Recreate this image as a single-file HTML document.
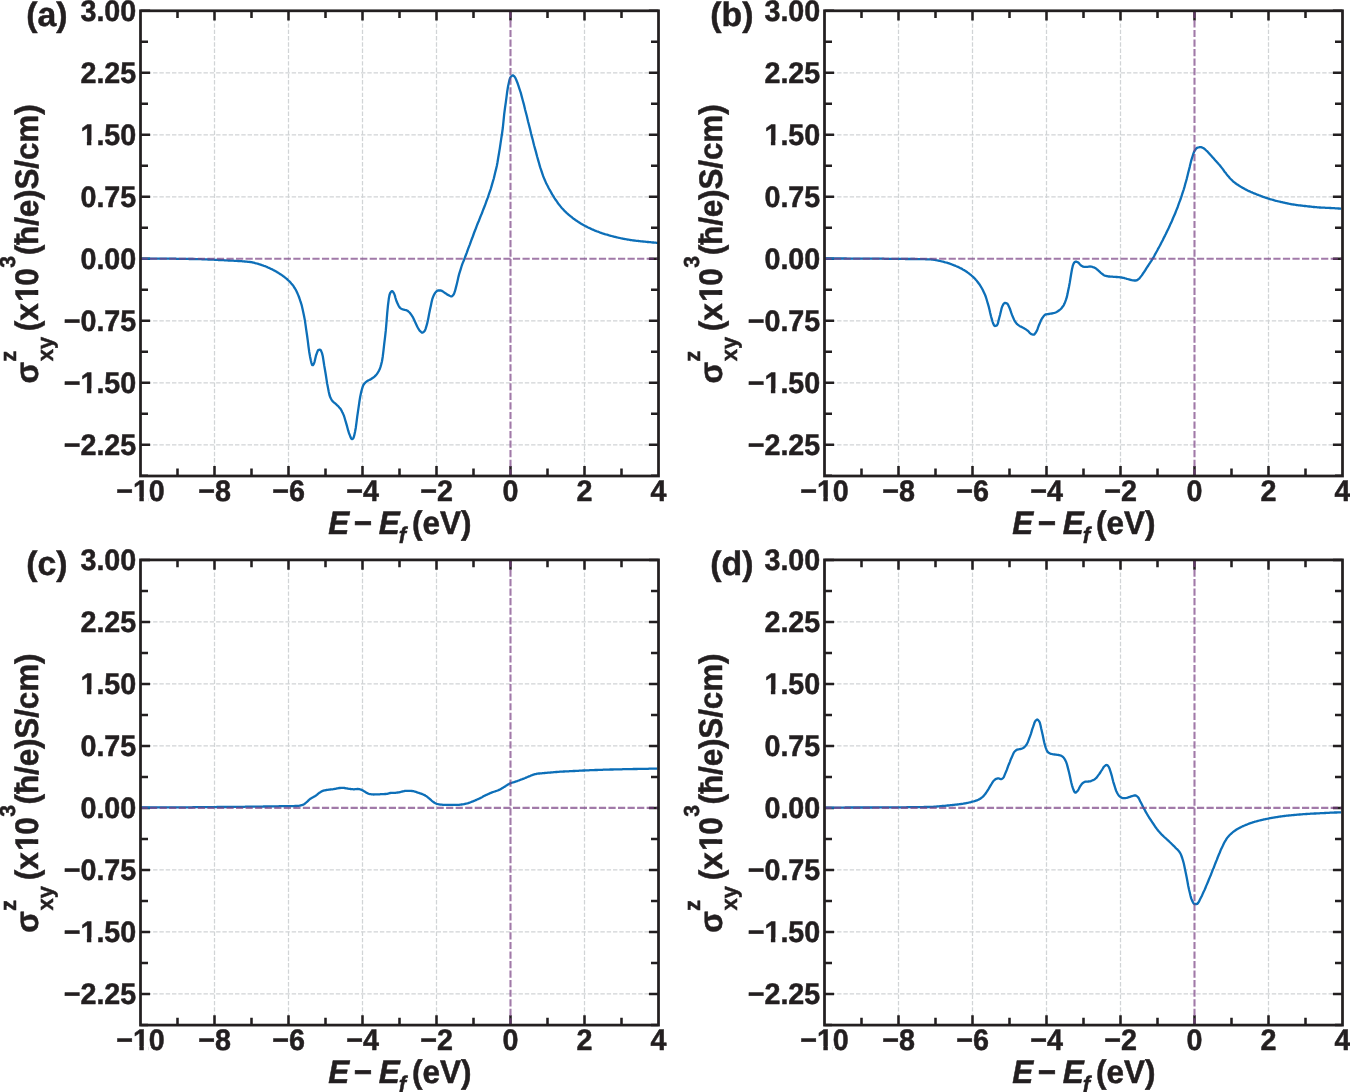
<!DOCTYPE html>
<html><head><meta charset="utf-8"><title>Spin Hall conductivity</title>
<style>
html,body{margin:0;padding:0;background:#fff;}
body{width:1350px;height:1092px;overflow:hidden;}
svg{display:block;}
text{font-family:"Liberation Sans",sans-serif;font-weight:bold;fill:#231f20;stroke:#231f20;stroke-width:0.5px;stroke-linejoin:round;font-kerning:none;text-rendering:geometricPrecision;}
.tk{font-size:28.7px;}
.lb{font-size:31.5px;}
.sb{font-size:22px;}
.sp{font-size:21px;}
.pl{font-size:33.8px;}
.it{font-style:italic;}
</style></head><body>
<svg width="1350" height="1092" viewBox="0 0 1350 1092">
<rect width="1350" height="1092" fill="#fff"/>
<g>
<g stroke="#d1d4d6" stroke-width="1.25" stroke-dasharray="4.4 1.9" fill="none">
<path d="M214.5,10.8V475.9"/>
<path d="M288.5,10.8V475.9"/>
<path d="M362.5,10.8V475.9"/>
<path d="M436.5,10.8V475.9"/>
<path d="M584.5,10.8V475.9"/>
<path d="M140.5,72.8H658.5"/>
<path d="M140.5,134.8H658.5"/>
<path d="M140.5,196.8H658.5"/>
<path d="M140.5,320.8H658.5"/>
<path d="M140.5,382.8H658.5"/>
<path d="M140.5,444.8H658.5"/>
</g>
<path d="M177.5,475.9v-7.3M177.5,10.8v7.3M214.5,475.9v-9.8M214.5,10.8v9.8M251.5,475.9v-7.3M251.5,10.8v7.3M288.5,475.9v-9.8M288.5,10.8v9.8M325.5,475.9v-7.3M325.5,10.8v7.3M362.5,475.9v-9.8M362.5,10.8v9.8M399.5,475.9v-7.3M399.5,10.8v7.3M436.5,475.9v-9.8M436.5,10.8v9.8M473.5,475.9v-7.3M473.5,10.8v7.3M510.5,475.9v-9.8M510.5,10.8v9.8M547.5,475.9v-7.3M547.5,10.8v7.3M584.5,475.9v-9.8M584.5,10.8v9.8M621.5,475.9v-7.3M621.5,10.8v7.3M140.5,10.8h9.6M658.5,10.8h-9.6M140.5,41.8h7.5M658.5,41.8h-7.5M140.5,72.8h9.6M658.5,72.8h-9.6M140.5,103.8h7.5M658.5,103.8h-7.5M140.5,134.8h9.6M658.5,134.8h-9.6M140.5,165.8h7.5M658.5,165.8h-7.5M140.5,196.8h9.6M658.5,196.8h-9.6M140.5,227.8h7.5M658.5,227.8h-7.5M140.5,258.8h9.6M658.5,258.8h-9.6M140.5,289.8h7.5M658.5,289.8h-7.5M140.5,320.8h9.6M658.5,320.8h-9.6M140.5,351.8h7.5M658.5,351.8h-7.5M140.5,382.8h9.6M658.5,382.8h-9.6M140.5,413.8h7.5M658.5,413.8h-7.5M140.5,444.8h9.6M658.5,444.8h-9.6M140.5,475.8h7.5M658.5,475.8h-7.5" stroke="#231f20" stroke-width="2.55" fill="none"/>
<path d="M140.5,258.6 L141.2,258.6 L142.0,258.6 L142.8,258.6 L143.5,258.6 L144.2,258.6 L145.0,258.6 L145.8,258.6 L146.5,258.6 L147.2,258.6 L148.0,258.6 L148.8,258.6 L149.5,258.6 L150.2,258.6 L151.0,258.6 L151.8,258.6 L152.5,258.6 L153.2,258.6 L154.0,258.6 L154.8,258.6 L155.5,258.6 L156.2,258.6 L157.0,258.6 L157.8,258.6 L158.5,258.6 L159.2,258.6 L160.0,258.6 L160.8,258.7 L161.5,258.7 L162.2,258.7 L163.0,258.7 L163.8,258.7 L164.5,258.7 L165.2,258.7 L166.0,258.7 L166.8,258.7 L167.5,258.7 L168.2,258.7 L169.0,258.7 L169.8,258.7 L170.5,258.7 L171.2,258.7 L172.0,258.7 L172.8,258.7 L173.5,258.7 L174.2,258.7 L175.0,258.7 L175.8,258.7 L176.5,258.8 L177.2,258.8 L178.0,258.8 L178.8,258.8 L179.5,258.8 L180.2,258.8 L181.0,258.8 L181.8,258.8 L182.5,258.8 L183.2,258.8 L184.0,258.9 L184.8,258.9 L185.5,258.9 L186.2,258.9 L187.0,258.9 L187.8,258.9 L188.5,258.9 L189.2,259.0 L190.0,259.0 L190.8,259.0 L191.5,259.0 L192.2,259.0 L193.0,259.0 L193.8,259.1 L194.5,259.1 L195.2,259.1 L196.0,259.1 L196.8,259.1 L197.5,259.1 L198.2,259.2 L199.0,259.2 L199.8,259.2 L200.5,259.2 L201.2,259.2 L202.0,259.3 L202.8,259.3 L203.5,259.3 L204.2,259.3 L205.0,259.3 L205.8,259.4 L206.5,259.4 L207.2,259.4 L208.0,259.5 L208.8,259.5 L209.5,259.5 L210.2,259.6 L211.0,259.6 L211.8,259.6 L212.5,259.7 L213.2,259.7 L214.0,259.7 L214.8,259.8 L215.5,259.8 L216.2,259.8 L217.0,259.9 L217.8,259.9 L218.5,260.0 L219.2,260.0 L220.0,260.0 L220.8,260.1 L221.5,260.1 L222.2,260.2 L223.0,260.2 L223.8,260.2 L224.5,260.3 L225.2,260.3 L226.0,260.4 L226.8,260.4 L227.5,260.4 L228.2,260.5 L229.0,260.5 L229.8,260.5 L230.5,260.6 L231.2,260.6 L232.0,260.7 L232.8,260.7 L233.5,260.7 L234.2,260.8 L235.0,260.8 L235.8,260.9 L236.5,260.9 L237.2,260.9 L238.0,261.0 L238.8,261.0 L239.5,261.1 L240.2,261.1 L241.0,261.2 L241.8,261.2 L242.5,261.3 L243.2,261.4 L244.0,261.4 L244.8,261.5 L245.5,261.6 L246.2,261.6 L247.0,261.7 L247.8,261.8 L248.5,261.9 L249.2,261.9 L250.0,262.0 L250.8,262.1 L251.5,262.2 L252.2,262.4 L253.0,262.5 L253.8,262.7 L254.5,262.9 L255.2,263.1 L256.0,263.3 L256.8,263.5 L257.5,263.7 L258.2,263.9 L259.0,264.2 L259.8,264.4 L260.5,264.7 L261.2,264.9 L262.0,265.2 L262.8,265.4 L263.5,265.7 L264.2,266.0 L265.0,266.2 L265.8,266.5 L266.5,266.8 L267.2,267.1 L268.0,267.5 L268.8,267.8 L269.5,268.1 L270.2,268.5 L271.0,268.9 L271.8,269.2 L272.5,269.6 L273.2,270.0 L274.0,270.4 L274.8,270.8 L275.5,271.2 L276.2,271.6 L277.0,272.1 L277.8,272.5 L278.5,272.9 L279.2,273.4 L280.0,273.9 L280.8,274.4 L281.5,274.9 L282.2,275.4 L283.0,276.0 L283.8,276.5 L284.5,277.1 L285.2,277.7 L286.0,278.3 L286.8,278.9 L287.5,279.6 L288.2,280.3 L289.0,281.0 L289.8,281.7 L290.5,282.5 L291.2,283.4 L292.0,284.3 L292.8,285.2 L293.5,286.2 L294.2,287.3 L295.0,288.5 L295.8,289.8 L296.5,291.2 L297.2,292.8 L298.0,294.6 L298.8,296.5 L299.5,298.5 L300.2,300.7 L301.0,303.0 L301.8,305.7 L302.5,308.7 L303.2,312.0 L304.0,315.7 L304.8,319.9 L305.5,324.7 L306.2,329.7 L307.0,335.0 L307.8,340.9 L308.5,346.7 L309.2,351.7 L310.0,356.4 L310.8,360.3 L311.5,363.1 L312.2,365.2 L313.0,365.2 L313.8,363.9 L314.5,362.1 L315.2,358.9 L316.0,355.5 L316.8,353.3 L317.5,351.4 L318.2,350.2 L319.0,349.9 L319.8,349.7 L320.5,349.8 L321.2,351.1 L322.0,353.1 L322.8,356.2 L323.5,360.7 L324.2,365.4 L325.0,370.0 L325.8,374.8 L326.5,379.4 L327.2,383.7 L328.0,387.9 L328.8,391.9 L329.5,395.0 L330.2,397.0 L331.0,398.7 L331.8,400.1 L332.5,401.1 L333.2,401.8 L334.0,402.5 L334.8,403.1 L335.5,403.7 L336.2,404.3 L337.0,405.1 L337.8,405.8 L338.5,406.5 L339.2,407.4 L340.0,408.3 L340.8,409.3 L341.5,410.5 L342.2,412.0 L343.0,413.6 L343.8,415.4 L344.5,417.5 L345.2,420.0 L346.0,422.7 L346.8,425.4 L347.5,428.0 L348.2,430.7 L349.0,433.2 L349.8,435.1 L350.5,437.1 L351.2,438.6 L352.0,439.2 L352.8,438.8 L353.5,437.8 L354.2,435.7 L355.0,432.0 L355.8,427.7 L356.5,422.4 L357.2,416.8 L358.0,411.4 L358.8,405.9 L359.5,401.0 L360.2,396.7 L361.0,392.9 L361.8,389.8 L362.5,387.4 L363.2,385.4 L364.0,384.1 L364.8,383.2 L365.5,382.4 L366.2,381.8 L367.0,381.2 L367.8,380.7 L368.5,380.3 L369.2,380.0 L370.0,379.6 L370.8,379.2 L371.5,378.7 L372.2,378.2 L373.0,377.7 L373.8,377.2 L374.5,376.6 L375.2,375.9 L376.0,375.1 L376.8,374.2 L377.5,373.2 L378.2,372.0 L379.0,370.6 L379.8,369.0 L380.5,366.9 L381.2,364.4 L382.0,361.2 L382.8,356.2 L383.5,350.3 L384.2,344.2 L385.0,337.6 L385.8,330.4 L386.5,322.2 L387.2,313.4 L388.0,305.1 L388.8,298.8 L389.5,295.0 L390.2,293.0 L391.0,291.9 L391.8,291.2 L392.5,291.2 L393.2,292.1 L394.0,293.4 L394.8,295.4 L395.5,298.0 L396.2,300.2 L397.0,302.2 L397.8,304.1 L398.5,305.5 L399.2,306.8 L400.0,307.8 L400.8,308.4 L401.5,308.8 L402.2,309.1 L403.0,309.4 L403.8,309.6 L404.5,309.8 L405.2,310.0 L406.0,310.2 L406.8,310.4 L407.5,310.8 L408.2,311.3 L409.0,312.0 L409.8,312.8 L410.5,313.7 L411.2,314.7 L412.0,315.9 L412.8,317.1 L413.5,318.5 L414.2,320.0 L415.0,321.7 L415.8,323.4 L416.5,324.9 L417.2,326.4 L418.0,328.0 L418.8,329.3 L419.5,330.4 L420.2,331.2 L421.0,331.9 L421.8,332.5 L422.5,332.6 L423.2,332.3 L424.0,331.6 L424.8,330.7 L425.5,329.1 L426.2,326.8 L427.0,324.2 L427.8,320.8 L428.5,317.2 L429.2,313.4 L430.0,309.6 L430.8,305.9 L431.5,302.5 L432.2,299.4 L433.0,297.1 L433.8,295.3 L434.5,293.9 L435.2,292.8 L436.0,291.9 L436.8,291.2 L437.5,290.6 L438.2,290.5 L439.0,290.5 L439.8,290.5 L440.5,290.5 L441.2,290.6 L442.0,290.9 L442.8,291.4 L443.5,291.9 L444.2,292.4 L445.0,292.9 L445.8,293.4 L446.5,294.0 L447.2,294.4 L448.0,294.9 L448.8,295.3 L449.5,295.7 L450.2,296.0 L451.0,296.3 L451.8,296.4 L452.5,295.9 L453.2,295.0 L454.0,293.8 L454.8,291.7 L455.5,289.1 L456.2,286.4 L457.0,283.2 L457.8,279.8 L458.5,276.6 L459.2,273.9 L460.0,271.3 L460.8,268.8 L461.5,266.5 L462.2,264.4 L463.0,262.4 L463.8,260.5 L464.5,258.6 L465.2,256.7 L466.0,254.7 L466.8,252.6 L467.5,250.6 L468.2,248.6 L469.0,246.6 L469.8,244.6 L470.5,242.6 L471.2,240.6 L472.0,238.5 L472.8,236.5 L473.5,234.5 L474.2,232.5 L475.0,230.5 L475.8,228.5 L476.5,226.6 L477.2,224.7 L478.0,222.8 L478.8,221.0 L479.5,219.1 L480.2,217.3 L481.0,215.4 L481.8,213.5 L482.5,211.6 L483.2,209.7 L484.0,207.7 L484.8,205.8 L485.5,203.8 L486.2,201.8 L487.0,199.8 L487.8,197.7 L488.5,195.5 L489.2,193.3 L490.0,191.1 L490.8,188.8 L491.5,186.4 L492.2,183.9 L493.0,181.2 L493.8,178.5 L494.5,175.6 L495.2,172.6 L496.0,169.4 L496.8,166.0 L497.5,162.3 L498.2,158.0 L499.0,153.3 L499.8,148.4 L500.5,143.6 L501.2,138.9 L502.0,133.8 L502.8,128.0 L503.5,121.1 L504.2,114.1 L505.0,108.0 L505.8,102.4 L506.5,97.1 L507.2,91.7 L508.0,86.8 L508.8,83.0 L509.5,79.8 L510.2,77.6 L511.0,76.6 L511.8,75.9 L512.5,75.4 L513.2,75.5 L514.0,76.1 L514.8,77.0 L515.5,78.1 L516.2,79.8 L517.0,81.8 L517.8,83.8 L518.5,85.9 L519.2,88.1 L520.0,90.5 L520.8,92.9 L521.5,95.6 L522.2,98.3 L523.0,101.2 L523.8,104.1 L524.5,107.1 L525.2,110.0 L526.0,113.0 L526.8,116.0 L527.5,119.0 L528.2,122.0 L529.0,125.0 L529.8,128.1 L530.5,131.1 L531.2,134.1 L532.0,137.1 L532.8,140.0 L533.5,142.9 L534.2,145.8 L535.0,148.6 L535.8,151.4 L536.5,154.1 L537.2,156.8 L538.0,159.6 L538.8,162.3 L539.5,164.9 L540.2,167.4 L541.0,169.7 L541.8,172.0 L542.5,174.1 L543.2,176.2 L544.0,178.1 L544.8,180.0 L545.5,181.6 L546.2,183.2 L547.0,184.8 L547.8,186.2 L548.5,187.7 L549.2,189.0 L550.0,190.4 L550.8,191.8 L551.5,193.1 L552.2,194.4 L553.0,195.6 L553.8,196.9 L554.5,198.1 L555.2,199.2 L556.0,200.3 L556.8,201.4 L557.5,202.5 L558.2,203.5 L559.0,204.5 L559.8,205.4 L560.5,206.4 L561.2,207.3 L562.0,208.2 L562.8,209.0 L563.5,209.8 L564.2,210.6 L565.0,211.3 L565.8,212.1 L566.5,212.8 L567.2,213.4 L568.0,214.1 L568.8,214.8 L569.5,215.4 L570.2,216.0 L571.0,216.6 L571.8,217.2 L572.5,217.8 L573.2,218.4 L574.0,218.9 L574.8,219.5 L575.5,220.0 L576.2,220.6 L577.0,221.1 L577.8,221.6 L578.5,222.1 L579.2,222.5 L580.0,223.0 L580.8,223.5 L581.5,223.9 L582.2,224.4 L583.0,224.8 L583.8,225.2 L584.5,225.6 L585.2,226.0 L586.0,226.4 L586.8,226.8 L587.5,227.2 L588.2,227.5 L589.0,227.9 L589.8,228.2 L590.5,228.6 L591.2,228.9 L592.0,229.3 L592.8,229.6 L593.5,229.9 L594.2,230.2 L595.0,230.6 L595.8,230.9 L596.5,231.2 L597.2,231.5 L598.0,231.7 L598.8,232.0 L599.5,232.3 L600.2,232.6 L601.0,232.8 L601.8,233.1 L602.5,233.3 L603.2,233.6 L604.0,233.8 L604.8,234.1 L605.5,234.3 L606.2,234.5 L607.0,234.7 L607.8,234.9 L608.5,235.2 L609.2,235.4 L610.0,235.6 L610.8,235.8 L611.5,236.0 L612.2,236.2 L613.0,236.4 L613.8,236.6 L614.5,236.8 L615.2,236.9 L616.0,237.1 L616.8,237.3 L617.5,237.5 L618.2,237.7 L619.0,237.8 L619.8,238.0 L620.5,238.2 L621.2,238.3 L622.0,238.5 L622.8,238.6 L623.5,238.8 L624.2,238.9 L625.0,239.1 L625.8,239.2 L626.5,239.3 L627.2,239.5 L628.0,239.6 L628.8,239.7 L629.5,239.8 L630.2,240.0 L631.0,240.1 L631.8,240.2 L632.5,240.3 L633.2,240.4 L634.0,240.5 L634.8,240.6 L635.5,240.7 L636.2,240.8 L637.0,240.8 L637.8,240.9 L638.5,241.0 L639.2,241.1 L640.0,241.2 L640.8,241.3 L641.5,241.3 L642.2,241.4 L643.0,241.5 L643.8,241.6 L644.5,241.7 L645.2,241.7 L646.0,241.8 L646.8,241.9 L647.5,242.0 L648.2,242.0 L649.0,242.1 L649.8,242.2 L650.5,242.2 L651.2,242.3 L652.0,242.4 L652.8,242.5 L653.5,242.5 L654.2,242.6 L655.0,242.7 L655.8,242.7 L656.5,242.8 L657.2,242.9 L658.0,242.9" fill="none" stroke="#0d6fb8" stroke-width="2.3" stroke-linejoin="round" stroke-linecap="butt"/>
<g stroke="#7a4284" stroke-width="2.1" stroke-dasharray="7.2 2.35" fill="none" opacity="0.7"><path d="M140.5,258.8H658.5"/><path d="M510.5,10.8V475.9"/></g>
<rect x="140.5" y="10.8" width="518.0" height="465.2" fill="none" stroke="#231f20" stroke-width="2.75"/>
<text class="tk" transform="translate(116.16,501.30) scale(1,1.035)">−10</text><path fill="#fff" d="M134.03,496.81H139.37v5.79H134.03ZM143.80,496.81H148.78v5.79H143.80Z"/>
<text class="tk" transform="translate(198.14,501.30) scale(1,1.035)">−8</text>
<text class="tk" transform="translate(272.14,501.30) scale(1,1.035)">−6</text>
<text class="tk" transform="translate(346.14,501.30) scale(1,1.035)">−4</text>
<text class="tk" transform="translate(420.14,501.30) scale(1,1.035)">−2</text>
<text class="tk" transform="translate(502.52,501.30) scale(1,1.035)">0</text>
<text class="tk" transform="translate(576.52,501.30) scale(1,1.035)">2</text>
<text class="tk" transform="translate(650.52,501.30) scale(1,1.035)">4</text>
<text class="tk" transform="translate(80.44,21.00) scale(1,1.035)">3.00</text>
<text class="tk" transform="translate(80.44,83.00) scale(1,1.035)">2.25</text>
<text class="tk" transform="translate(80.44,145.00) scale(1,1.035)">1.50</text><path fill="#fff" d="M81.55,140.51H86.89v5.79H81.55ZM91.33,140.51H96.30v5.79H91.33Z"/>
<text class="tk" transform="translate(80.44,207.00) scale(1,1.035)">0.75</text>
<text class="tk" transform="translate(80.44,269.00) scale(1,1.035)">0.00</text>
<text class="tk" transform="translate(63.68,331.00) scale(1,1.035)">−0.75</text>
<text class="tk" transform="translate(63.68,393.00) scale(1,1.035)">−1.50</text><path fill="#fff" d="M81.55,388.51H86.89v5.79H81.55ZM91.33,388.51H96.30v5.79H91.33Z"/>
<text class="tk" transform="translate(63.68,455.00) scale(1,1.035)">−2.25</text>
<text class="lb" transform="translate(0,534.1) scale(1,1.035)"><tspan class="it" x="328.35">E</tspan><tspan x="353.70">−</tspan><tspan class="it" x="378.75">E</tspan><tspan class="it sb" x="398.85" dy="8.3">f</tspan><tspan x="412.03" dy="-8.3">(eV)</tspan></text>
<g transform="translate(140.5,475.50) rotate(-90)"><text class="lb" transform="translate(91.9,-102.8) scale(1,1.035)">σ</text><text class="sb" transform="translate(113.7,-124.3) scale(1,1.035)">z</text><text class="sb" transform="translate(114.15,-87.7) scale(1,1.035)">xy</text><text class="lb" transform="translate(144.30,-102.80) scale(1,1.035)">(x<tspan dx="1.2">1</tspan><tspan dx="-1.2">0</tspan></text><path fill="#fff" d="M174.79,-107.59H180.61v6.09H174.79ZM185.43,-107.59H190.85v6.09H185.43Z"/><text class="sp" transform="translate(207.8,-125.5) scale(1,1.035)">3</text><text class="lb" transform="translate(220.2,-102.8) scale(1,1.035)" letter-spacing="-0.15">(ħ/e)S/cm)</text></g>
<text class="pl" x="26.3" y="26.00">(a)</text>
</g>
<g>
<g stroke="#d1d4d6" stroke-width="1.25" stroke-dasharray="4.4 1.9" fill="none">
<path d="M898.5,10.8V475.9"/>
<path d="M972.5,10.8V475.9"/>
<path d="M1046.5,10.8V475.9"/>
<path d="M1120.5,10.8V475.9"/>
<path d="M1268.5,10.8V475.9"/>
<path d="M824.5,72.8H1342.5"/>
<path d="M824.5,134.8H1342.5"/>
<path d="M824.5,196.8H1342.5"/>
<path d="M824.5,320.8H1342.5"/>
<path d="M824.5,382.8H1342.5"/>
<path d="M824.5,444.8H1342.5"/>
</g>
<path d="M861.5,475.9v-7.3M861.5,10.8v7.3M898.5,475.9v-9.8M898.5,10.8v9.8M935.5,475.9v-7.3M935.5,10.8v7.3M972.5,475.9v-9.8M972.5,10.8v9.8M1009.5,475.9v-7.3M1009.5,10.8v7.3M1046.5,475.9v-9.8M1046.5,10.8v9.8M1083.5,475.9v-7.3M1083.5,10.8v7.3M1120.5,475.9v-9.8M1120.5,10.8v9.8M1157.5,475.9v-7.3M1157.5,10.8v7.3M1194.5,475.9v-9.8M1194.5,10.8v9.8M1231.5,475.9v-7.3M1231.5,10.8v7.3M1268.5,475.9v-9.8M1268.5,10.8v9.8M1305.5,475.9v-7.3M1305.5,10.8v7.3M824.5,10.8h9.6M1342.5,10.8h-9.6M824.5,41.8h7.5M1342.5,41.8h-7.5M824.5,72.8h9.6M1342.5,72.8h-9.6M824.5,103.8h7.5M1342.5,103.8h-7.5M824.5,134.8h9.6M1342.5,134.8h-9.6M824.5,165.8h7.5M1342.5,165.8h-7.5M824.5,196.8h9.6M1342.5,196.8h-9.6M824.5,227.8h7.5M1342.5,227.8h-7.5M824.5,258.8h9.6M1342.5,258.8h-9.6M824.5,289.8h7.5M1342.5,289.8h-7.5M824.5,320.8h9.6M1342.5,320.8h-9.6M824.5,351.8h7.5M1342.5,351.8h-7.5M824.5,382.8h9.6M1342.5,382.8h-9.6M824.5,413.8h7.5M1342.5,413.8h-7.5M824.5,444.8h9.6M1342.5,444.8h-9.6M824.5,475.8h7.5M1342.5,475.8h-7.5" stroke="#231f20" stroke-width="2.55" fill="none"/>
<path d="M824.5,258.5 L825.2,258.5 L826.0,258.5 L826.8,258.5 L827.5,258.5 L828.2,258.5 L829.0,258.5 L829.8,258.5 L830.5,258.5 L831.2,258.5 L832.0,258.5 L832.8,258.5 L833.5,258.5 L834.2,258.5 L835.0,258.5 L835.8,258.5 L836.5,258.5 L837.2,258.5 L838.0,258.5 L838.8,258.5 L839.5,258.5 L840.2,258.5 L841.0,258.5 L841.8,258.5 L842.5,258.5 L843.2,258.5 L844.0,258.5 L844.8,258.5 L845.5,258.5 L846.2,258.5 L847.0,258.6 L847.8,258.6 L848.5,258.6 L849.2,258.6 L850.0,258.6 L850.8,258.6 L851.5,258.6 L852.2,258.6 L853.0,258.6 L853.8,258.6 L854.5,258.6 L855.2,258.6 L856.0,258.6 L856.8,258.6 L857.5,258.6 L858.2,258.6 L859.0,258.6 L859.8,258.6 L860.5,258.6 L861.2,258.6 L862.0,258.6 L862.8,258.6 L863.5,258.6 L864.2,258.6 L865.0,258.6 L865.8,258.6 L866.5,258.6 L867.2,258.6 L868.0,258.6 L868.8,258.6 L869.5,258.6 L870.2,258.7 L871.0,258.7 L871.8,258.7 L872.5,258.7 L873.2,258.7 L874.0,258.7 L874.8,258.7 L875.5,258.7 L876.2,258.7 L877.0,258.7 L877.8,258.7 L878.5,258.7 L879.2,258.7 L880.0,258.7 L880.8,258.7 L881.5,258.7 L882.2,258.7 L883.0,258.7 L883.8,258.7 L884.5,258.8 L885.2,258.8 L886.0,258.8 L886.8,258.8 L887.5,258.8 L888.2,258.8 L889.0,258.8 L889.8,258.8 L890.5,258.8 L891.2,258.8 L892.0,258.8 L892.8,258.8 L893.5,258.8 L894.2,258.8 L895.0,258.8 L895.8,258.9 L896.5,258.9 L897.2,258.9 L898.0,258.9 L898.8,258.9 L899.5,258.9 L900.2,258.9 L901.0,258.9 L901.8,258.9 L902.5,258.9 L903.2,258.9 L904.0,258.9 L904.8,258.9 L905.5,259.0 L906.2,259.0 L907.0,259.0 L907.8,259.0 L908.5,259.0 L909.2,259.0 L910.0,259.0 L910.8,259.0 L911.5,259.0 L912.2,259.0 L913.0,259.0 L913.8,259.0 L914.5,259.0 L915.2,259.1 L916.0,259.1 L916.8,259.1 L917.5,259.1 L918.2,259.1 L919.0,259.1 L919.8,259.1 L920.5,259.1 L921.2,259.2 L922.0,259.2 L922.8,259.2 L923.5,259.2 L924.2,259.2 L925.0,259.2 L925.8,259.3 L926.5,259.3 L927.2,259.3 L928.0,259.3 L928.8,259.3 L929.5,259.4 L930.2,259.4 L931.0,259.4 L931.8,259.5 L932.5,259.6 L933.2,259.7 L934.0,259.8 L934.8,259.9 L935.5,260.0 L936.2,260.2 L937.0,260.3 L937.8,260.5 L938.5,260.6 L939.2,260.8 L940.0,261.0 L940.8,261.2 L941.5,261.3 L942.2,261.5 L943.0,261.7 L943.8,261.9 L944.5,262.1 L945.2,262.3 L946.0,262.5 L946.8,262.7 L947.5,262.9 L948.2,263.2 L949.0,263.4 L949.8,263.7 L950.5,263.9 L951.2,264.2 L952.0,264.5 L952.8,264.8 L953.5,265.1 L954.2,265.3 L955.0,265.6 L955.8,266.0 L956.5,266.3 L957.2,266.6 L958.0,266.9 L958.8,267.3 L959.5,267.7 L960.2,268.1 L961.0,268.4 L961.8,268.8 L962.5,269.3 L963.2,269.7 L964.0,270.1 L964.8,270.6 L965.5,271.1 L966.2,271.5 L967.0,272.0 L967.8,272.6 L968.5,273.1 L969.2,273.7 L970.0,274.3 L970.8,274.9 L971.5,275.5 L972.2,276.2 L973.0,276.8 L973.8,277.6 L974.5,278.3 L975.2,279.1 L976.0,280.0 L976.8,280.8 L977.5,281.8 L978.2,282.7 L979.0,283.8 L979.8,284.8 L980.5,286.0 L981.2,287.2 L982.0,288.5 L982.8,290.0 L983.5,291.5 L984.2,293.1 L985.0,294.8 L985.8,296.8 L986.5,299.0 L987.2,301.5 L988.0,304.2 L988.8,306.9 L989.5,309.7 L990.2,312.9 L991.0,316.2 L991.8,319.2 L992.5,321.5 L993.2,323.6 L994.0,325.3 L994.8,326.0 L995.5,325.9 L996.2,325.6 L997.0,325.3 L997.8,323.7 L998.5,320.9 L999.2,318.0 L1000.0,315.1 L1000.8,311.8 L1001.5,308.7 L1002.2,306.5 L1003.0,304.9 L1003.8,303.6 L1004.5,303.0 L1005.2,303.0 L1006.0,303.1 L1006.8,303.4 L1007.5,303.8 L1008.2,305.0 L1009.0,306.7 L1009.8,308.5 L1010.5,310.5 L1011.2,312.7 L1012.0,314.9 L1012.8,316.7 L1013.5,318.4 L1014.2,320.0 L1015.0,321.4 L1015.8,322.5 L1016.5,323.4 L1017.2,324.2 L1018.0,324.8 L1018.8,325.4 L1019.5,325.9 L1020.2,326.3 L1021.0,326.6 L1021.8,327.0 L1022.5,327.4 L1023.2,327.8 L1024.0,328.2 L1024.8,328.7 L1025.5,329.1 L1026.2,329.6 L1027.0,330.2 L1027.8,330.7 L1028.5,331.4 L1029.2,332.3 L1030.0,333.2 L1030.8,333.8 L1031.5,334.2 L1032.2,334.4 L1033.0,334.6 L1033.8,334.7 L1034.5,334.2 L1035.2,333.3 L1036.0,332.2 L1036.8,330.9 L1037.5,329.2 L1038.2,327.1 L1039.0,325.0 L1039.8,323.2 L1040.5,321.6 L1041.2,319.9 L1042.0,318.5 L1042.8,317.4 L1043.5,316.4 L1044.2,315.5 L1045.0,314.8 L1045.8,314.4 L1046.5,314.3 L1047.2,314.1 L1048.0,314.1 L1048.8,314.0 L1049.5,313.9 L1050.2,313.7 L1051.0,313.6 L1051.8,313.5 L1052.5,313.4 L1053.2,313.2 L1054.0,313.0 L1054.8,312.8 L1055.5,312.5 L1056.2,312.2 L1057.0,311.8 L1057.8,311.3 L1058.5,310.8 L1059.2,310.3 L1060.0,309.7 L1060.8,309.0 L1061.5,308.2 L1062.2,307.3 L1063.0,306.3 L1063.8,305.1 L1064.5,303.6 L1065.2,301.8 L1066.0,299.7 L1066.8,297.2 L1067.5,294.1 L1068.2,290.5 L1069.0,286.7 L1069.8,282.4 L1070.5,278.0 L1071.2,273.8 L1072.0,269.3 L1072.8,265.7 L1073.5,263.9 L1074.2,262.6 L1075.0,261.8 L1075.8,261.6 L1076.5,261.7 L1077.2,262.0 L1078.0,262.4 L1078.8,263.0 L1079.5,263.9 L1080.2,264.7 L1081.0,265.4 L1081.8,265.9 L1082.5,266.4 L1083.2,266.7 L1084.0,266.8 L1084.8,266.8 L1085.5,266.8 L1086.2,266.8 L1087.0,266.8 L1087.8,266.8 L1088.5,266.7 L1089.2,266.6 L1090.0,266.5 L1090.8,266.6 L1091.5,266.7 L1092.2,266.8 L1093.0,267.1 L1093.8,267.3 L1094.5,267.7 L1095.2,268.1 L1096.0,268.6 L1096.8,269.2 L1097.5,269.7 L1098.2,270.4 L1099.0,271.1 L1099.8,271.8 L1100.5,272.6 L1101.2,273.2 L1102.0,273.8 L1102.8,274.3 L1103.5,274.9 L1104.2,275.3 L1105.0,275.6 L1105.8,275.8 L1106.5,276.1 L1107.2,276.2 L1108.0,276.4 L1108.8,276.5 L1109.5,276.5 L1110.2,276.6 L1111.0,276.7 L1111.8,276.7 L1112.5,276.7 L1113.2,276.8 L1114.0,276.8 L1114.8,276.9 L1115.5,276.9 L1116.2,277.0 L1117.0,277.0 L1117.8,277.1 L1118.5,277.1 L1119.2,277.2 L1120.0,277.3 L1120.8,277.4 L1121.5,277.5 L1122.2,277.6 L1123.0,277.8 L1123.8,277.9 L1124.5,278.1 L1125.2,278.3 L1126.0,278.5 L1126.8,278.8 L1127.5,279.0 L1128.2,279.2 L1129.0,279.4 L1129.8,279.6 L1130.5,279.9 L1131.2,280.0 L1132.0,280.2 L1132.8,280.3 L1133.5,280.4 L1134.2,280.5 L1135.0,280.5 L1135.8,280.5 L1136.5,280.4 L1137.2,280.1 L1138.0,279.5 L1138.8,278.9 L1139.5,278.3 L1140.2,277.4 L1141.0,276.4 L1141.8,275.4 L1142.5,274.3 L1143.2,273.2 L1144.0,272.1 L1144.8,271.0 L1145.5,269.8 L1146.2,268.6 L1147.0,267.4 L1147.8,266.3 L1148.5,265.1 L1149.2,264.0 L1150.0,262.9 L1150.8,261.7 L1151.5,260.6 L1152.2,259.4 L1153.0,258.1 L1153.8,256.8 L1154.5,255.5 L1155.2,254.1 L1156.0,252.7 L1156.8,251.3 L1157.5,250.0 L1158.2,248.6 L1159.0,247.2 L1159.8,245.8 L1160.5,244.4 L1161.2,243.0 L1162.0,241.5 L1162.8,240.1 L1163.5,238.6 L1164.2,237.1 L1165.0,235.6 L1165.8,234.0 L1166.5,232.5 L1167.2,231.0 L1168.0,229.4 L1168.8,227.8 L1169.5,226.2 L1170.2,224.6 L1171.0,222.9 L1171.8,221.2 L1172.5,219.5 L1173.2,217.8 L1174.0,216.1 L1174.8,214.3 L1175.5,212.5 L1176.2,210.6 L1177.0,208.7 L1177.8,206.7 L1178.5,204.7 L1179.2,202.7 L1180.0,200.6 L1180.8,198.5 L1181.5,196.3 L1182.2,194.0 L1183.0,191.7 L1183.8,189.3 L1184.5,186.9 L1185.2,184.2 L1186.0,181.5 L1186.8,178.6 L1187.5,175.7 L1188.2,172.8 L1189.0,169.7 L1189.8,166.6 L1190.5,163.5 L1191.2,160.7 L1192.0,158.1 L1192.8,155.6 L1193.5,153.3 L1194.2,151.5 L1195.0,150.2 L1195.8,149.1 L1196.5,148.3 L1197.2,147.8 L1198.0,147.5 L1198.8,147.3 L1199.5,147.1 L1200.2,147.1 L1201.0,147.2 L1201.8,147.4 L1202.5,147.7 L1203.2,148.0 L1204.0,148.5 L1204.8,149.1 L1205.5,149.8 L1206.2,150.5 L1207.0,151.2 L1207.8,151.9 L1208.5,152.7 L1209.2,153.5 L1210.0,154.4 L1210.8,155.2 L1211.5,156.0 L1212.2,156.9 L1213.0,157.7 L1213.8,158.6 L1214.5,159.4 L1215.2,160.3 L1216.0,161.1 L1216.8,162.0 L1217.5,162.8 L1218.2,163.6 L1219.0,164.5 L1219.8,165.3 L1220.5,166.2 L1221.2,167.1 L1222.0,168.1 L1222.8,169.1 L1223.5,170.1 L1224.2,171.2 L1225.0,172.2 L1225.8,173.1 L1226.5,174.1 L1227.2,175.0 L1228.0,175.9 L1228.8,176.8 L1229.5,177.7 L1230.2,178.5 L1231.0,179.3 L1231.8,180.0 L1232.5,180.8 L1233.2,181.5 L1234.0,182.1 L1234.8,182.7 L1235.5,183.3 L1236.2,183.8 L1237.0,184.4 L1237.8,184.8 L1238.5,185.3 L1239.2,185.8 L1240.0,186.2 L1240.8,186.7 L1241.5,187.1 L1242.2,187.6 L1243.0,188.0 L1243.8,188.4 L1244.5,188.8 L1245.2,189.2 L1246.0,189.6 L1246.8,190.0 L1247.5,190.4 L1248.2,190.8 L1249.0,191.1 L1249.8,191.4 L1250.5,191.8 L1251.2,192.1 L1252.0,192.4 L1252.8,192.8 L1253.5,193.1 L1254.2,193.4 L1255.0,193.7 L1255.8,194.0 L1256.5,194.3 L1257.2,194.6 L1258.0,194.9 L1258.8,195.2 L1259.5,195.5 L1260.2,195.7 L1261.0,196.0 L1261.8,196.3 L1262.5,196.6 L1263.2,196.9 L1264.0,197.1 L1264.8,197.4 L1265.5,197.6 L1266.2,197.9 L1267.0,198.1 L1267.8,198.4 L1268.5,198.6 L1269.2,198.8 L1270.0,199.1 L1270.8,199.3 L1271.5,199.5 L1272.2,199.7 L1273.0,199.9 L1273.8,200.2 L1274.5,200.4 L1275.2,200.6 L1276.0,200.8 L1276.8,201.0 L1277.5,201.2 L1278.2,201.3 L1279.0,201.5 L1279.8,201.7 L1280.5,201.9 L1281.2,202.1 L1282.0,202.2 L1282.8,202.4 L1283.5,202.6 L1284.2,202.7 L1285.0,202.9 L1285.8,203.1 L1286.5,203.2 L1287.2,203.4 L1288.0,203.5 L1288.8,203.7 L1289.5,203.8 L1290.2,204.0 L1291.0,204.1 L1291.8,204.3 L1292.5,204.4 L1293.2,204.5 L1294.0,204.6 L1294.8,204.7 L1295.5,204.8 L1296.2,205.0 L1297.0,205.1 L1297.8,205.2 L1298.5,205.3 L1299.2,205.3 L1300.0,205.4 L1300.8,205.5 L1301.5,205.6 L1302.2,205.7 L1303.0,205.8 L1303.8,205.9 L1304.5,206.0 L1305.2,206.0 L1306.0,206.1 L1306.8,206.2 L1307.5,206.3 L1308.2,206.4 L1309.0,206.5 L1309.8,206.5 L1310.5,206.6 L1311.2,206.7 L1312.0,206.8 L1312.8,206.9 L1313.5,207.0 L1314.2,207.0 L1315.0,207.1 L1315.8,207.2 L1316.5,207.2 L1317.2,207.3 L1318.0,207.4 L1318.8,207.4 L1319.5,207.5 L1320.2,207.5 L1321.0,207.6 L1321.8,207.6 L1322.5,207.6 L1323.2,207.7 L1324.0,207.7 L1324.8,207.7 L1325.5,207.8 L1326.2,207.8 L1327.0,207.8 L1327.8,207.9 L1328.5,207.9 L1329.2,207.9 L1330.0,208.0 L1330.8,208.0 L1331.5,208.1 L1332.2,208.1 L1333.0,208.1 L1333.8,208.2 L1334.5,208.2 L1335.2,208.3 L1336.0,208.3 L1336.8,208.4 L1337.5,208.4 L1338.2,208.5 L1339.0,208.5 L1339.8,208.6 L1340.5,208.6 L1341.2,208.7" fill="none" stroke="#0d6fb8" stroke-width="2.3" stroke-linejoin="round" stroke-linecap="butt"/>
<g stroke="#7a4284" stroke-width="2.1" stroke-dasharray="7.2 2.35" fill="none" opacity="0.7"><path d="M824.5,258.8H1342.5"/><path d="M1194.5,10.8V475.9"/></g>
<rect x="824.5" y="10.8" width="518.0" height="465.2" fill="none" stroke="#231f20" stroke-width="2.75"/>
<text class="tk" transform="translate(800.16,501.30) scale(1,1.035)">−10</text><path fill="#fff" d="M818.03,496.81H823.37v5.79H818.03ZM827.80,496.81H832.78v5.79H827.80Z"/>
<text class="tk" transform="translate(882.14,501.30) scale(1,1.035)">−8</text>
<text class="tk" transform="translate(956.14,501.30) scale(1,1.035)">−6</text>
<text class="tk" transform="translate(1030.14,501.30) scale(1,1.035)">−4</text>
<text class="tk" transform="translate(1104.14,501.30) scale(1,1.035)">−2</text>
<text class="tk" transform="translate(1186.52,501.30) scale(1,1.035)">0</text>
<text class="tk" transform="translate(1260.52,501.30) scale(1,1.035)">2</text>
<text class="tk" transform="translate(1334.52,501.30) scale(1,1.035)">4</text>
<text class="tk" transform="translate(764.44,21.00) scale(1,1.035)">3.00</text>
<text class="tk" transform="translate(764.44,83.00) scale(1,1.035)">2.25</text>
<text class="tk" transform="translate(764.44,145.00) scale(1,1.035)">1.50</text><path fill="#fff" d="M765.55,140.51H770.89v5.79H765.55ZM775.33,140.51H780.30v5.79H775.33Z"/>
<text class="tk" transform="translate(764.44,207.00) scale(1,1.035)">0.75</text>
<text class="tk" transform="translate(764.44,269.00) scale(1,1.035)">0.00</text>
<text class="tk" transform="translate(747.68,331.00) scale(1,1.035)">−0.75</text>
<text class="tk" transform="translate(747.68,393.00) scale(1,1.035)">−1.50</text><path fill="#fff" d="M765.55,388.51H770.89v5.79H765.55ZM775.33,388.51H780.30v5.79H775.33Z"/>
<text class="tk" transform="translate(747.68,455.00) scale(1,1.035)">−2.25</text>
<text class="lb" transform="translate(0,534.1) scale(1,1.035)"><tspan class="it" x="1012.35">E</tspan><tspan x="1037.70">−</tspan><tspan class="it" x="1062.75">E</tspan><tspan class="it sb" x="1082.85" dy="8.3">f</tspan><tspan x="1096.03" dy="-8.3">(eV)</tspan></text>
<g transform="translate(824.5,475.50) rotate(-90)"><text class="lb" transform="translate(91.9,-102.8) scale(1,1.035)">σ</text><text class="sb" transform="translate(113.7,-124.3) scale(1,1.035)">z</text><text class="sb" transform="translate(114.15,-87.7) scale(1,1.035)">xy</text><text class="lb" transform="translate(144.30,-102.80) scale(1,1.035)">(x<tspan dx="1.2">1</tspan><tspan dx="-1.2">0</tspan></text><path fill="#fff" d="M174.79,-107.59H180.61v6.09H174.79ZM185.43,-107.59H190.85v6.09H185.43Z"/><text class="sp" transform="translate(207.8,-125.5) scale(1,1.035)">3</text><text class="lb" transform="translate(220.2,-102.8) scale(1,1.035)" letter-spacing="-0.15">(ħ/e)S/cm)</text></g>
<text class="pl" x="710.3" y="26.00">(b)</text>
</g>
<g>
<g stroke="#d1d4d6" stroke-width="1.25" stroke-dasharray="4.4 1.9" fill="none">
<path d="M214.5,559.9V1025.0"/>
<path d="M288.5,559.9V1025.0"/>
<path d="M362.5,559.9V1025.0"/>
<path d="M436.5,559.9V1025.0"/>
<path d="M584.5,559.9V1025.0"/>
<path d="M140.5,621.9H658.5"/>
<path d="M140.5,683.9H658.5"/>
<path d="M140.5,745.9H658.5"/>
<path d="M140.5,869.9H658.5"/>
<path d="M140.5,931.9H658.5"/>
<path d="M140.5,993.9H658.5"/>
</g>
<path d="M177.5,1025.0v-7.3M177.5,559.9v7.3M214.5,1025.0v-9.8M214.5,559.9v9.8M251.5,1025.0v-7.3M251.5,559.9v7.3M288.5,1025.0v-9.8M288.5,559.9v9.8M325.5,1025.0v-7.3M325.5,559.9v7.3M362.5,1025.0v-9.8M362.5,559.9v9.8M399.5,1025.0v-7.3M399.5,559.9v7.3M436.5,1025.0v-9.8M436.5,559.9v9.8M473.5,1025.0v-7.3M473.5,559.9v7.3M510.5,1025.0v-9.8M510.5,559.9v9.8M547.5,1025.0v-7.3M547.5,559.9v7.3M584.5,1025.0v-9.8M584.5,559.9v9.8M621.5,1025.0v-7.3M621.5,559.9v7.3M140.5,559.9h9.6M658.5,559.9h-9.6M140.5,590.9h7.5M658.5,590.9h-7.5M140.5,621.9h9.6M658.5,621.9h-9.6M140.5,652.9h7.5M658.5,652.9h-7.5M140.5,683.9h9.6M658.5,683.9h-9.6M140.5,714.9h7.5M658.5,714.9h-7.5M140.5,745.9h9.6M658.5,745.9h-9.6M140.5,776.9h7.5M658.5,776.9h-7.5M140.5,807.9h9.6M658.5,807.9h-9.6M140.5,838.9h7.5M658.5,838.9h-7.5M140.5,869.9h9.6M658.5,869.9h-9.6M140.5,900.9h7.5M658.5,900.9h-7.5M140.5,931.9h9.6M658.5,931.9h-9.6M140.5,962.9h7.5M658.5,962.9h-7.5M140.5,993.9h9.6M658.5,993.9h-9.6M140.5,1024.9h7.5M658.5,1024.9h-7.5" stroke="#231f20" stroke-width="2.55" fill="none"/>
<path d="M140.5,807.5 L141.2,807.5 L142.0,807.5 L142.8,807.5 L143.5,807.5 L144.2,807.5 L145.0,807.5 L145.8,807.5 L146.5,807.5 L147.2,807.5 L148.0,807.5 L148.8,807.5 L149.5,807.5 L150.2,807.5 L151.0,807.5 L151.8,807.5 L152.5,807.5 L153.2,807.5 L154.0,807.5 L154.8,807.5 L155.5,807.5 L156.2,807.5 L157.0,807.4 L157.8,807.4 L158.5,807.4 L159.2,807.4 L160.0,807.4 L160.8,807.4 L161.5,807.4 L162.2,807.4 L163.0,807.4 L163.8,807.4 L164.5,807.4 L165.2,807.4 L166.0,807.4 L166.8,807.4 L167.5,807.4 L168.2,807.4 L169.0,807.4 L169.8,807.4 L170.5,807.4 L171.2,807.4 L172.0,807.4 L172.8,807.4 L173.5,807.4 L174.2,807.4 L175.0,807.4 L175.8,807.4 L176.5,807.4 L177.2,807.3 L178.0,807.3 L178.8,807.3 L179.5,807.3 L180.2,807.3 L181.0,807.3 L181.8,807.3 L182.5,807.3 L183.2,807.3 L184.0,807.3 L184.8,807.3 L185.5,807.3 L186.2,807.3 L187.0,807.3 L187.8,807.3 L188.5,807.3 L189.2,807.3 L190.0,807.3 L190.8,807.3 L191.5,807.3 L192.2,807.3 L193.0,807.2 L193.8,807.2 L194.5,807.2 L195.2,807.2 L196.0,807.2 L196.8,807.2 L197.5,807.2 L198.2,807.2 L199.0,807.2 L199.8,807.2 L200.5,807.2 L201.2,807.2 L202.0,807.2 L202.8,807.2 L203.5,807.2 L204.2,807.2 L205.0,807.2 L205.8,807.2 L206.5,807.1 L207.2,807.1 L208.0,807.1 L208.8,807.1 L209.5,807.1 L210.2,807.1 L211.0,807.1 L211.8,807.1 L212.5,807.1 L213.2,807.1 L214.0,807.1 L214.8,807.1 L215.5,807.1 L216.2,807.1 L217.0,807.0 L217.8,807.0 L218.5,807.0 L219.2,807.0 L220.0,807.0 L220.8,807.0 L221.5,807.0 L222.2,807.0 L223.0,807.0 L223.8,807.0 L224.5,807.0 L225.2,807.0 L226.0,807.0 L226.8,806.9 L227.5,806.9 L228.2,806.9 L229.0,806.9 L229.8,806.9 L230.5,806.9 L231.2,806.9 L232.0,806.9 L232.8,806.9 L233.5,806.9 L234.2,806.9 L235.0,806.9 L235.8,806.8 L236.5,806.8 L237.2,806.8 L238.0,806.8 L238.8,806.8 L239.5,806.8 L240.2,806.8 L241.0,806.8 L241.8,806.8 L242.5,806.8 L243.2,806.8 L244.0,806.8 L244.8,806.8 L245.5,806.7 L246.2,806.7 L247.0,806.7 L247.8,806.7 L248.5,806.7 L249.2,806.7 L250.0,806.7 L250.8,806.7 L251.5,806.7 L252.2,806.7 L253.0,806.7 L253.8,806.7 L254.5,806.7 L255.2,806.7 L256.0,806.6 L256.8,806.6 L257.5,806.6 L258.2,806.6 L259.0,806.6 L259.8,806.6 L260.5,806.6 L261.2,806.6 L262.0,806.6 L262.8,806.6 L263.5,806.5 L264.2,806.5 L265.0,806.5 L265.8,806.5 L266.5,806.5 L267.2,806.5 L268.0,806.4 L268.8,806.4 L269.5,806.4 L270.2,806.4 L271.0,806.4 L271.8,806.4 L272.5,806.3 L273.2,806.3 L274.0,806.3 L274.8,806.3 L275.5,806.3 L276.2,806.3 L277.0,806.3 L277.8,806.3 L278.5,806.3 L279.2,806.2 L280.0,806.2 L280.8,806.2 L281.5,806.2 L282.2,806.2 L283.0,806.2 L283.8,806.2 L284.5,806.2 L285.2,806.2 L286.0,806.2 L286.8,806.2 L287.5,806.2 L288.2,806.1 L289.0,806.1 L289.8,806.1 L290.5,806.1 L291.2,806.1 L292.0,806.1 L292.8,806.1 L293.5,806.1 L294.2,806.1 L295.0,806.0 L295.8,806.0 L296.5,806.0 L297.2,805.9 L298.0,805.9 L298.8,805.8 L299.5,805.7 L300.2,805.5 L301.0,805.4 L301.8,805.2 L302.5,804.9 L303.2,804.6 L304.0,804.2 L304.8,803.7 L305.5,803.1 L306.2,802.5 L307.0,801.8 L307.8,801.1 L308.5,800.4 L309.2,799.7 L310.0,799.1 L310.8,798.6 L311.5,798.1 L312.2,797.7 L313.0,797.3 L313.8,796.8 L314.5,796.4 L315.2,796.0 L316.0,795.5 L316.8,794.9 L317.5,794.3 L318.2,793.7 L319.0,793.1 L319.8,792.6 L320.5,792.1 L321.2,791.6 L322.0,791.2 L322.8,790.9 L323.5,790.7 L324.2,790.4 L325.0,790.3 L325.8,790.1 L326.5,790.0 L327.2,789.9 L328.0,789.8 L328.8,789.7 L329.5,789.6 L330.2,789.5 L331.0,789.4 L331.8,789.4 L332.5,789.3 L333.2,789.2 L334.0,789.0 L334.8,788.9 L335.5,788.8 L336.2,788.6 L337.0,788.4 L337.8,788.3 L338.5,788.1 L339.2,788.0 L340.0,788.0 L340.8,787.9 L341.5,787.8 L342.2,787.8 L343.0,787.8 L343.8,787.9 L344.5,788.0 L345.2,788.1 L346.0,788.3 L346.8,788.4 L347.5,788.5 L348.2,788.7 L349.0,788.8 L349.8,788.9 L350.5,789.0 L351.2,789.1 L352.0,789.2 L352.8,789.2 L353.5,789.3 L354.2,789.3 L355.0,789.2 L355.8,789.2 L356.5,789.1 L357.2,789.0 L358.0,789.0 L358.8,789.1 L359.5,789.2 L360.2,789.4 L361.0,789.6 L361.8,789.9 L362.5,790.3 L363.2,790.8 L364.0,791.2 L364.8,791.6 L365.5,792.1 L366.2,792.6 L367.0,793.0 L367.8,793.4 L368.5,793.7 L369.2,794.0 L370.0,794.2 L370.8,794.2 L371.5,794.3 L372.2,794.4 L373.0,794.4 L373.8,794.5 L374.5,794.4 L375.2,794.4 L376.0,794.4 L376.8,794.4 L377.5,794.3 L378.2,794.3 L379.0,794.3 L379.8,794.3 L380.5,794.2 L381.2,794.2 L382.0,794.2 L382.8,794.2 L383.5,794.1 L384.2,794.1 L385.0,794.0 L385.8,794.0 L386.5,793.9 L387.2,793.8 L388.0,793.6 L388.8,793.4 L389.5,793.1 L390.2,793.0 L391.0,792.9 L391.8,792.9 L392.5,792.9 L393.2,792.8 L394.0,792.8 L394.8,792.8 L395.5,792.8 L396.2,792.7 L397.0,792.6 L397.8,792.5 L398.5,792.4 L399.2,792.3 L400.0,792.1 L400.8,791.9 L401.5,791.7 L402.2,791.5 L403.0,791.4 L403.8,791.2 L404.5,791.0 L405.2,790.9 L406.0,790.8 L406.8,790.8 L407.5,790.8 L408.2,790.8 L409.0,790.8 L409.8,790.8 L410.5,790.8 L411.2,790.9 L412.0,791.0 L412.8,791.1 L413.5,791.2 L414.2,791.4 L415.0,791.6 L415.8,791.8 L416.5,792.1 L417.2,792.4 L418.0,792.7 L418.8,792.9 L419.5,793.1 L420.2,793.4 L421.0,793.6 L421.8,793.9 L422.5,794.2 L423.2,794.5 L424.0,794.9 L424.8,795.2 L425.5,795.7 L426.2,796.1 L427.0,796.7 L427.8,797.3 L428.5,797.9 L429.2,798.5 L430.0,799.1 L430.8,799.8 L431.5,800.5 L432.2,801.1 L433.0,801.7 L433.8,802.2 L434.5,802.7 L435.2,803.1 L436.0,803.5 L436.8,803.8 L437.5,804.0 L438.2,804.2 L439.0,804.3 L439.8,804.5 L440.5,804.6 L441.2,804.7 L442.0,804.7 L442.8,804.8 L443.5,804.9 L444.2,804.9 L445.0,804.9 L445.8,804.9 L446.5,804.9 L447.2,804.9 L448.0,804.9 L448.8,804.9 L449.5,804.9 L450.2,804.9 L451.0,804.9 L451.8,804.9 L452.5,804.9 L453.2,804.9 L454.0,804.9 L454.8,804.9 L455.5,804.9 L456.2,804.9 L457.0,804.9 L457.8,804.9 L458.5,804.9 L459.2,804.8 L460.0,804.7 L460.8,804.6 L461.5,804.5 L462.2,804.4 L463.0,804.3 L463.8,804.2 L464.5,804.0 L465.2,803.9 L466.0,803.7 L466.8,803.5 L467.5,803.3 L468.2,803.1 L469.0,802.8 L469.8,802.5 L470.5,802.3 L471.2,802.0 L472.0,801.7 L472.8,801.4 L473.5,801.1 L474.2,800.8 L475.0,800.5 L475.8,800.2 L476.5,799.8 L477.2,799.5 L478.0,799.2 L478.8,798.8 L479.5,798.4 L480.2,798.1 L481.0,797.7 L481.8,797.3 L482.5,796.9 L483.2,796.4 L484.0,796.0 L484.8,795.7 L485.5,795.3 L486.2,794.9 L487.0,794.6 L487.8,794.2 L488.5,793.9 L489.2,793.6 L490.0,793.2 L490.8,792.9 L491.5,792.6 L492.2,792.3 L493.0,792.0 L493.8,791.8 L494.5,791.5 L495.2,791.3 L496.0,791.0 L496.8,790.8 L497.5,790.5 L498.2,790.3 L499.0,789.9 L499.8,789.6 L500.5,789.2 L501.2,788.8 L502.0,788.3 L502.8,787.9 L503.5,787.4 L504.2,786.9 L505.0,786.4 L505.8,785.9 L506.5,785.4 L507.2,785.0 L508.0,784.5 L508.8,784.1 L509.5,783.7 L510.2,783.3 L511.0,783.0 L511.8,782.8 L512.5,782.5 L513.2,782.3 L514.0,782.1 L514.8,781.8 L515.5,781.6 L516.2,781.3 L517.0,781.1 L517.8,780.8 L518.5,780.5 L519.2,780.3 L520.0,780.0 L520.8,779.7 L521.5,779.5 L522.2,779.2 L523.0,778.9 L523.8,778.6 L524.5,778.3 L525.2,778.0 L526.0,777.6 L526.8,777.3 L527.5,777.0 L528.2,776.7 L529.0,776.4 L529.8,776.1 L530.5,775.8 L531.2,775.4 L532.0,775.2 L532.8,774.9 L533.5,774.7 L534.2,774.4 L535.0,774.2 L535.8,774.1 L536.5,773.9 L537.2,773.7 L538.0,773.6 L538.8,773.5 L539.5,773.5 L540.2,773.4 L541.0,773.3 L541.8,773.3 L542.5,773.2 L543.2,773.1 L544.0,773.1 L544.8,773.0 L545.5,772.9 L546.2,772.9 L547.0,772.8 L547.8,772.7 L548.5,772.7 L549.2,772.6 L550.0,772.6 L550.8,772.5 L551.5,772.4 L552.2,772.4 L553.0,772.3 L553.8,772.2 L554.5,772.2 L555.2,772.1 L556.0,772.0 L556.8,772.0 L557.5,771.9 L558.2,771.8 L559.0,771.8 L559.8,771.7 L560.5,771.7 L561.2,771.6 L562.0,771.6 L562.8,771.6 L563.5,771.5 L564.2,771.5 L565.0,771.4 L565.8,771.4 L566.5,771.4 L567.2,771.3 L568.0,771.3 L568.8,771.3 L569.5,771.2 L570.2,771.2 L571.0,771.2 L571.8,771.1 L572.5,771.1 L573.2,771.0 L574.0,771.0 L574.8,771.0 L575.5,770.9 L576.2,770.9 L577.0,770.8 L577.8,770.8 L578.5,770.8 L579.2,770.7 L580.0,770.7 L580.8,770.6 L581.5,770.6 L582.2,770.6 L583.0,770.5 L583.8,770.5 L584.5,770.5 L585.2,770.4 L586.0,770.4 L586.8,770.4 L587.5,770.3 L588.2,770.3 L589.0,770.3 L589.8,770.2 L590.5,770.2 L591.2,770.2 L592.0,770.2 L592.8,770.1 L593.5,770.1 L594.2,770.1 L595.0,770.0 L595.8,770.0 L596.5,770.0 L597.2,770.0 L598.0,769.9 L598.8,769.9 L599.5,769.9 L600.2,769.8 L601.0,769.8 L601.8,769.8 L602.5,769.8 L603.2,769.7 L604.0,769.7 L604.8,769.7 L605.5,769.7 L606.2,769.7 L607.0,769.6 L607.8,769.6 L608.5,769.6 L609.2,769.6 L610.0,769.5 L610.8,769.5 L611.5,769.5 L612.2,769.5 L613.0,769.5 L613.8,769.4 L614.5,769.4 L615.2,769.4 L616.0,769.4 L616.8,769.4 L617.5,769.3 L618.2,769.3 L619.0,769.3 L619.8,769.3 L620.5,769.3 L621.2,769.3 L622.0,769.3 L622.8,769.2 L623.5,769.2 L624.2,769.2 L625.0,769.2 L625.8,769.2 L626.5,769.2 L627.2,769.2 L628.0,769.1 L628.8,769.1 L629.5,769.1 L630.2,769.1 L631.0,769.1 L631.8,769.1 L632.5,769.1 L633.2,769.0 L634.0,769.0 L634.8,769.0 L635.5,769.0 L636.2,769.0 L637.0,769.0 L637.8,768.9 L638.5,768.9 L639.2,768.9 L640.0,768.9 L640.8,768.9 L641.5,768.9 L642.2,768.8 L643.0,768.8 L643.8,768.8 L644.5,768.8 L645.2,768.8 L646.0,768.8 L646.8,768.8 L647.5,768.8 L648.2,768.8 L649.0,768.7 L649.8,768.7 L650.5,768.7 L651.2,768.7 L652.0,768.7 L652.8,768.7 L653.5,768.7 L654.2,768.7 L655.0,768.7 L655.8,768.7 L656.5,768.6 L657.2,768.6" fill="none" stroke="#0d6fb8" stroke-width="2.3" stroke-linejoin="round" stroke-linecap="butt"/>
<g stroke="#7a4284" stroke-width="2.1" stroke-dasharray="7.2 2.35" fill="none" opacity="0.7"><path d="M140.5,807.9H658.5"/><path d="M510.5,559.9V1025.0"/></g>
<rect x="140.5" y="559.9" width="518.0" height="465.2" fill="none" stroke="#231f20" stroke-width="2.75"/>
<text class="tk" transform="translate(116.16,1050.40) scale(1,1.035)">−10</text><path fill="#fff" d="M134.03,1045.91H139.37v5.79H134.03ZM143.80,1045.91H148.78v5.79H143.80Z"/>
<text class="tk" transform="translate(198.14,1050.40) scale(1,1.035)">−8</text>
<text class="tk" transform="translate(272.14,1050.40) scale(1,1.035)">−6</text>
<text class="tk" transform="translate(346.14,1050.40) scale(1,1.035)">−4</text>
<text class="tk" transform="translate(420.14,1050.40) scale(1,1.035)">−2</text>
<text class="tk" transform="translate(502.52,1050.40) scale(1,1.035)">0</text>
<text class="tk" transform="translate(576.52,1050.40) scale(1,1.035)">2</text>
<text class="tk" transform="translate(650.52,1050.40) scale(1,1.035)">4</text>
<text class="tk" transform="translate(80.44,570.10) scale(1,1.035)">3.00</text>
<text class="tk" transform="translate(80.44,632.10) scale(1,1.035)">2.25</text>
<text class="tk" transform="translate(80.44,694.10) scale(1,1.035)">1.50</text><path fill="#fff" d="M81.55,689.61H86.89v5.79H81.55ZM91.33,689.61H96.30v5.79H91.33Z"/>
<text class="tk" transform="translate(80.44,756.10) scale(1,1.035)">0.75</text>
<text class="tk" transform="translate(80.44,818.10) scale(1,1.035)">0.00</text>
<text class="tk" transform="translate(63.68,880.10) scale(1,1.035)">−0.75</text>
<text class="tk" transform="translate(63.68,942.10) scale(1,1.035)">−1.50</text><path fill="#fff" d="M81.55,937.61H86.89v5.79H81.55ZM91.33,937.61H96.30v5.79H91.33Z"/>
<text class="tk" transform="translate(63.68,1004.10) scale(1,1.035)">−2.25</text>
<text class="lb" transform="translate(0,1083.2) scale(1,1.035)"><tspan class="it" x="328.35">E</tspan><tspan x="353.70">−</tspan><tspan class="it" x="378.75">E</tspan><tspan class="it sb" x="398.85" dy="8.3">f</tspan><tspan x="412.03" dy="-8.3">(eV)</tspan></text>
<g transform="translate(140.5,1024.60) rotate(-90)"><text class="lb" transform="translate(91.9,-102.8) scale(1,1.035)">σ</text><text class="sb" transform="translate(113.7,-124.3) scale(1,1.035)">z</text><text class="sb" transform="translate(114.15,-87.7) scale(1,1.035)">xy</text><text class="lb" transform="translate(144.30,-102.80) scale(1,1.035)">(x<tspan dx="1.2">1</tspan><tspan dx="-1.2">0</tspan></text><path fill="#fff" d="M174.79,-107.59H180.61v6.09H174.79ZM185.43,-107.59H190.85v6.09H185.43Z"/><text class="sp" transform="translate(207.8,-125.5) scale(1,1.035)">3</text><text class="lb" transform="translate(220.2,-102.8) scale(1,1.035)" letter-spacing="-0.15">(ħ/e)S/cm)</text></g>
<text class="pl" x="26.3" y="575.10">(c)</text>
</g>
<g>
<g stroke="#d1d4d6" stroke-width="1.25" stroke-dasharray="4.4 1.9" fill="none">
<path d="M898.5,559.9V1025.0"/>
<path d="M972.5,559.9V1025.0"/>
<path d="M1046.5,559.9V1025.0"/>
<path d="M1120.5,559.9V1025.0"/>
<path d="M1268.5,559.9V1025.0"/>
<path d="M824.5,621.9H1342.5"/>
<path d="M824.5,683.9H1342.5"/>
<path d="M824.5,745.9H1342.5"/>
<path d="M824.5,869.9H1342.5"/>
<path d="M824.5,931.9H1342.5"/>
<path d="M824.5,993.9H1342.5"/>
</g>
<path d="M861.5,1025.0v-7.3M861.5,559.9v7.3M898.5,1025.0v-9.8M898.5,559.9v9.8M935.5,1025.0v-7.3M935.5,559.9v7.3M972.5,1025.0v-9.8M972.5,559.9v9.8M1009.5,1025.0v-7.3M1009.5,559.9v7.3M1046.5,1025.0v-9.8M1046.5,559.9v9.8M1083.5,1025.0v-7.3M1083.5,559.9v7.3M1120.5,1025.0v-9.8M1120.5,559.9v9.8M1157.5,1025.0v-7.3M1157.5,559.9v7.3M1194.5,1025.0v-9.8M1194.5,559.9v9.8M1231.5,1025.0v-7.3M1231.5,559.9v7.3M1268.5,1025.0v-9.8M1268.5,559.9v9.8M1305.5,1025.0v-7.3M1305.5,559.9v7.3M824.5,559.9h9.6M1342.5,559.9h-9.6M824.5,590.9h7.5M1342.5,590.9h-7.5M824.5,621.9h9.6M1342.5,621.9h-9.6M824.5,652.9h7.5M1342.5,652.9h-7.5M824.5,683.9h9.6M1342.5,683.9h-9.6M824.5,714.9h7.5M1342.5,714.9h-7.5M824.5,745.9h9.6M1342.5,745.9h-9.6M824.5,776.9h7.5M1342.5,776.9h-7.5M824.5,807.9h9.6M1342.5,807.9h-9.6M824.5,838.9h7.5M1342.5,838.9h-7.5M824.5,869.9h9.6M1342.5,869.9h-9.6M824.5,900.9h7.5M1342.5,900.9h-7.5M824.5,931.9h9.6M1342.5,931.9h-9.6M824.5,962.9h7.5M1342.5,962.9h-7.5M824.5,993.9h9.6M1342.5,993.9h-9.6M824.5,1024.9h7.5M1342.5,1024.9h-7.5" stroke="#231f20" stroke-width="2.55" fill="none"/>
<path d="M824.5,807.6 L825.2,807.6 L826.0,807.6 L826.8,807.6 L827.5,807.6 L828.2,807.6 L829.0,807.6 L829.8,807.6 L830.5,807.6 L831.2,807.6 L832.0,807.6 L832.8,807.6 L833.5,807.6 L834.2,807.6 L835.0,807.6 L835.8,807.6 L836.5,807.6 L837.2,807.6 L838.0,807.6 L838.8,807.6 L839.5,807.6 L840.2,807.6 L841.0,807.6 L841.8,807.6 L842.5,807.6 L843.2,807.6 L844.0,807.6 L844.8,807.6 L845.5,807.5 L846.2,807.5 L847.0,807.5 L847.8,807.5 L848.5,807.5 L849.2,807.5 L850.0,807.5 L850.8,807.5 L851.5,807.5 L852.2,807.5 L853.0,807.5 L853.8,807.5 L854.5,807.5 L855.2,807.5 L856.0,807.5 L856.8,807.5 L857.5,807.5 L858.2,807.5 L859.0,807.5 L859.8,807.5 L860.5,807.5 L861.2,807.5 L862.0,807.5 L862.8,807.5 L863.5,807.5 L864.2,807.5 L865.0,807.5 L865.8,807.5 L866.5,807.5 L867.2,807.5 L868.0,807.5 L868.8,807.5 L869.5,807.5 L870.2,807.5 L871.0,807.5 L871.8,807.5 L872.5,807.5 L873.2,807.4 L874.0,807.4 L874.8,807.4 L875.5,807.4 L876.2,807.4 L877.0,807.4 L877.8,807.4 L878.5,807.4 L879.2,807.4 L880.0,807.4 L880.8,807.4 L881.5,807.4 L882.2,807.4 L883.0,807.4 L883.8,807.4 L884.5,807.4 L885.2,807.4 L886.0,807.4 L886.8,807.4 L887.5,807.4 L888.2,807.4 L889.0,807.4 L889.8,807.4 L890.5,807.4 L891.2,807.4 L892.0,807.4 L892.8,807.3 L893.5,807.3 L894.2,807.3 L895.0,807.3 L895.8,807.3 L896.5,807.3 L897.2,807.3 L898.0,807.3 L898.8,807.3 L899.5,807.3 L900.2,807.3 L901.0,807.3 L901.8,807.3 L902.5,807.3 L903.2,807.3 L904.0,807.3 L904.8,807.3 L905.5,807.3 L906.2,807.3 L907.0,807.2 L907.8,807.2 L908.5,807.2 L909.2,807.2 L910.0,807.2 L910.8,807.2 L911.5,807.2 L912.2,807.2 L913.0,807.2 L913.8,807.2 L914.5,807.2 L915.2,807.2 L916.0,807.2 L916.8,807.2 L917.5,807.1 L918.2,807.1 L919.0,807.1 L919.8,807.1 L920.5,807.1 L921.2,807.1 L922.0,807.1 L922.8,807.1 L923.5,807.1 L924.2,807.0 L925.0,807.0 L925.8,807.0 L926.5,807.0 L927.2,807.0 L928.0,807.0 L928.8,807.0 L929.5,806.9 L930.2,806.9 L931.0,806.9 L931.8,806.9 L932.5,806.8 L933.2,806.8 L934.0,806.7 L934.8,806.7 L935.5,806.6 L936.2,806.6 L937.0,806.5 L937.8,806.4 L938.5,806.4 L939.2,806.3 L940.0,806.2 L940.8,806.2 L941.5,806.1 L942.2,806.0 L943.0,806.0 L943.8,805.9 L944.5,805.8 L945.2,805.8 L946.0,805.7 L946.8,805.6 L947.5,805.5 L948.2,805.5 L949.0,805.4 L949.8,805.3 L950.5,805.2 L951.2,805.2 L952.0,805.1 L952.8,805.0 L953.5,804.9 L954.2,804.8 L955.0,804.7 L955.8,804.7 L956.5,804.6 L957.2,804.5 L958.0,804.4 L958.8,804.3 L959.5,804.2 L960.2,804.1 L961.0,804.0 L961.8,803.9 L962.5,803.8 L963.2,803.7 L964.0,803.5 L964.8,803.4 L965.5,803.3 L966.2,803.1 L967.0,803.0 L967.8,802.8 L968.5,802.7 L969.2,802.5 L970.0,802.3 L970.8,802.1 L971.5,801.9 L972.2,801.7 L973.0,801.5 L973.8,801.3 L974.5,801.1 L975.2,800.9 L976.0,800.6 L976.8,800.4 L977.5,800.1 L978.2,799.8 L979.0,799.4 L979.8,799.0 L980.5,798.5 L981.2,798.0 L982.0,797.4 L982.8,796.8 L983.5,796.1 L984.2,795.2 L985.0,794.3 L985.8,793.2 L986.5,792.2 L987.2,791.1 L988.0,789.8 L988.8,788.6 L989.5,787.3 L990.2,786.1 L991.0,784.8 L991.8,783.5 L992.5,782.3 L993.2,781.3 L994.0,780.5 L994.8,779.7 L995.5,779.2 L996.2,778.8 L997.0,778.6 L997.8,778.4 L998.5,778.3 L999.2,778.5 L1000.0,778.9 L1000.8,779.2 L1001.5,779.1 L1002.2,778.7 L1003.0,778.1 L1003.8,777.1 L1004.5,775.4 L1005.2,773.6 L1006.0,771.8 L1006.8,769.9 L1007.5,767.9 L1008.2,765.9 L1009.0,764.0 L1009.8,762.1 L1010.5,760.2 L1011.2,758.4 L1012.0,756.7 L1012.8,754.9 L1013.5,753.3 L1014.2,752.0 L1015.0,751.2 L1015.8,750.5 L1016.5,750.0 L1017.2,749.6 L1018.0,749.5 L1018.8,749.3 L1019.5,749.2 L1020.2,749.1 L1021.0,748.8 L1021.8,748.6 L1022.5,748.3 L1023.2,747.9 L1024.0,747.4 L1024.8,746.7 L1025.5,745.9 L1026.2,745.0 L1027.0,743.8 L1027.8,742.2 L1028.5,740.3 L1029.2,738.4 L1030.0,736.3 L1030.8,734.1 L1031.5,731.8 L1032.2,729.4 L1033.0,727.2 L1033.8,724.8 L1034.5,722.6 L1035.2,721.3 L1036.0,720.3 L1036.8,719.7 L1037.5,719.5 L1038.2,720.1 L1039.0,721.1 L1039.8,722.5 L1040.5,725.3 L1041.2,728.6 L1042.0,731.9 L1042.8,735.4 L1043.5,738.9 L1044.2,742.2 L1045.0,745.4 L1045.8,747.9 L1046.5,749.7 L1047.2,751.2 L1048.0,752.3 L1048.8,752.8 L1049.5,753.2 L1050.2,753.6 L1051.0,753.8 L1051.8,754.0 L1052.5,754.2 L1053.2,754.3 L1054.0,754.4 L1054.8,754.5 L1055.5,754.6 L1056.2,754.7 L1057.0,754.8 L1057.8,754.9 L1058.5,755.0 L1059.2,755.1 L1060.0,755.3 L1060.8,755.5 L1061.5,755.9 L1062.2,756.4 L1063.0,757.0 L1063.8,757.8 L1064.5,758.8 L1065.2,760.1 L1066.0,761.7 L1066.8,763.8 L1067.5,766.4 L1068.2,769.1 L1069.0,772.3 L1069.8,775.7 L1070.5,779.1 L1071.2,782.2 L1072.0,785.3 L1072.8,787.9 L1073.5,789.8 L1074.2,791.5 L1075.0,792.5 L1075.8,792.5 L1076.5,792.0 L1077.2,791.3 L1078.0,790.4 L1078.8,789.0 L1079.5,787.5 L1080.2,786.2 L1081.0,785.1 L1081.8,784.0 L1082.5,783.2 L1083.2,782.7 L1084.0,782.3 L1084.8,781.9 L1085.5,781.7 L1086.2,781.7 L1087.0,781.6 L1087.8,781.6 L1088.5,781.5 L1089.2,781.4 L1090.0,781.3 L1090.8,781.1 L1091.5,780.8 L1092.2,780.5 L1093.0,780.2 L1093.8,779.8 L1094.5,779.4 L1095.2,778.8 L1096.0,778.2 L1096.8,777.4 L1097.5,776.4 L1098.2,775.4 L1099.0,774.4 L1099.8,773.3 L1100.5,772.1 L1101.2,771.0 L1102.0,769.8 L1102.8,768.5 L1103.5,767.3 L1104.2,766.5 L1105.0,765.8 L1105.8,765.2 L1106.5,765.0 L1107.2,765.1 L1108.0,765.9 L1108.8,766.9 L1109.5,768.4 L1110.2,770.6 L1111.0,773.1 L1111.8,775.8 L1112.5,778.7 L1113.2,781.6 L1114.0,784.2 L1114.8,786.7 L1115.5,789.0 L1116.2,790.9 L1117.0,792.6 L1117.8,794.0 L1118.5,795.1 L1119.2,796.0 L1120.0,796.7 L1120.8,797.3 L1121.5,797.7 L1122.2,797.9 L1123.0,798.1 L1123.8,798.2 L1124.5,798.2 L1125.2,798.2 L1126.0,798.0 L1126.8,797.8 L1127.5,797.6 L1128.2,797.4 L1129.0,797.1 L1129.8,796.9 L1130.5,796.6 L1131.2,796.3 L1132.0,796.1 L1132.8,795.9 L1133.5,795.7 L1134.2,795.5 L1135.0,795.4 L1135.8,795.5 L1136.5,795.9 L1137.2,796.5 L1138.0,797.2 L1138.8,798.3 L1139.5,799.7 L1140.2,801.2 L1141.0,802.7 L1141.8,804.2 L1142.5,805.7 L1143.2,807.2 L1144.0,808.6 L1144.8,810.0 L1145.5,811.4 L1146.2,812.7 L1147.0,814.0 L1147.8,815.3 L1148.5,816.5 L1149.2,817.7 L1150.0,818.8 L1150.8,820.0 L1151.5,821.1 L1152.2,822.2 L1153.0,823.3 L1153.8,824.5 L1154.5,825.6 L1155.2,826.7 L1156.0,827.8 L1156.8,828.9 L1157.5,829.8 L1158.2,830.7 L1159.0,831.6 L1159.8,832.5 L1160.5,833.3 L1161.2,834.1 L1162.0,834.8 L1162.8,835.6 L1163.5,836.3 L1164.2,837.0 L1165.0,837.7 L1165.8,838.3 L1166.5,839.0 L1167.2,839.7 L1168.0,840.4 L1168.8,841.1 L1169.5,841.8 L1170.2,842.5 L1171.0,843.2 L1171.8,844.0 L1172.5,844.7 L1173.2,845.4 L1174.0,846.2 L1174.8,846.9 L1175.5,847.7 L1176.2,848.5 L1177.0,849.2 L1177.8,849.9 L1178.5,850.7 L1179.2,851.7 L1180.0,852.8 L1180.8,854.3 L1181.5,856.0 L1182.2,858.0 L1183.0,860.6 L1183.8,863.5 L1184.5,866.7 L1185.2,870.2 L1186.0,874.1 L1186.8,878.0 L1187.5,881.8 L1188.2,885.8 L1189.0,889.5 L1189.8,892.7 L1190.5,895.7 L1191.2,898.4 L1192.0,900.4 L1192.8,901.9 L1193.5,903.3 L1194.2,904.0 L1195.0,904.0 L1195.8,904.0 L1196.5,904.0 L1197.2,903.9 L1198.0,903.1 L1198.8,901.9 L1199.5,900.4 L1200.2,899.0 L1201.0,897.5 L1201.8,896.0 L1202.5,894.4 L1203.2,892.7 L1204.0,891.1 L1204.8,889.4 L1205.5,887.7 L1206.2,885.9 L1207.0,884.1 L1207.8,882.3 L1208.5,880.5 L1209.2,878.7 L1210.0,876.9 L1210.8,875.0 L1211.5,873.2 L1212.2,871.3 L1213.0,869.4 L1213.8,867.5 L1214.5,865.6 L1215.2,863.7 L1216.0,861.8 L1216.8,859.9 L1217.5,858.0 L1218.2,856.2 L1219.0,854.3 L1219.8,852.5 L1220.5,850.7 L1221.2,849.0 L1222.0,847.4 L1222.8,845.8 L1223.5,844.3 L1224.2,842.8 L1225.0,841.4 L1225.8,840.1 L1226.5,838.9 L1227.2,837.9 L1228.0,836.9 L1228.8,836.0 L1229.5,835.2 L1230.2,834.5 L1231.0,833.8 L1231.8,833.1 L1232.5,832.5 L1233.2,831.9 L1234.0,831.3 L1234.8,830.8 L1235.5,830.3 L1236.2,829.8 L1237.0,829.3 L1237.8,828.9 L1238.5,828.4 L1239.2,828.0 L1240.0,827.6 L1240.8,827.2 L1241.5,826.8 L1242.2,826.5 L1243.0,826.1 L1243.8,825.8 L1244.5,825.5 L1245.2,825.2 L1246.0,824.9 L1246.8,824.6 L1247.5,824.3 L1248.2,824.0 L1249.0,823.7 L1249.8,823.4 L1250.5,823.2 L1251.2,822.9 L1252.0,822.7 L1252.8,822.4 L1253.5,822.2 L1254.2,822.0 L1255.0,821.7 L1255.8,821.5 L1256.5,821.3 L1257.2,821.1 L1258.0,820.9 L1258.8,820.7 L1259.5,820.5 L1260.2,820.3 L1261.0,820.1 L1261.8,820.0 L1262.5,819.8 L1263.2,819.6 L1264.0,819.4 L1264.8,819.3 L1265.5,819.1 L1266.2,819.0 L1267.0,818.8 L1267.8,818.7 L1268.5,818.5 L1269.2,818.4 L1270.0,818.2 L1270.8,818.1 L1271.5,817.9 L1272.2,817.8 L1273.0,817.7 L1273.8,817.6 L1274.5,817.4 L1275.2,817.3 L1276.0,817.2 L1276.8,817.1 L1277.5,817.0 L1278.2,816.8 L1279.0,816.7 L1279.8,816.6 L1280.5,816.5 L1281.2,816.4 L1282.0,816.3 L1282.8,816.2 L1283.5,816.1 L1284.2,816.0 L1285.0,815.9 L1285.8,815.8 L1286.5,815.7 L1287.2,815.7 L1288.0,815.6 L1288.8,815.5 L1289.5,815.4 L1290.2,815.3 L1291.0,815.3 L1291.8,815.2 L1292.5,815.1 L1293.2,815.1 L1294.0,815.0 L1294.8,814.9 L1295.5,814.9 L1296.2,814.8 L1297.0,814.7 L1297.8,814.7 L1298.5,814.6 L1299.2,814.5 L1300.0,814.5 L1300.8,814.4 L1301.5,814.3 L1302.2,814.3 L1303.0,814.2 L1303.8,814.2 L1304.5,814.1 L1305.2,814.1 L1306.0,814.0 L1306.8,814.0 L1307.5,813.9 L1308.2,813.9 L1309.0,813.8 L1309.8,813.8 L1310.5,813.7 L1311.2,813.7 L1312.0,813.6 L1312.8,813.6 L1313.5,813.6 L1314.2,813.5 L1315.0,813.5 L1315.8,813.5 L1316.5,813.4 L1317.2,813.4 L1318.0,813.3 L1318.8,813.3 L1319.5,813.3 L1320.2,813.2 L1321.0,813.2 L1321.8,813.2 L1322.5,813.1 L1323.2,813.1 L1324.0,813.1 L1324.8,813.0 L1325.5,813.0 L1326.2,812.9 L1327.0,812.9 L1327.8,812.8 L1328.5,812.8 L1329.2,812.8 L1330.0,812.7 L1330.8,812.7 L1331.5,812.6 L1332.2,812.6 L1333.0,812.6 L1333.8,812.6 L1334.5,812.5 L1335.2,812.5 L1336.0,812.5 L1336.8,812.5 L1337.5,812.4 L1338.2,812.4 L1339.0,812.4 L1339.8,812.4 L1340.5,812.4 L1341.2,812.4" fill="none" stroke="#0d6fb8" stroke-width="2.3" stroke-linejoin="round" stroke-linecap="butt"/>
<g stroke="#7a4284" stroke-width="2.1" stroke-dasharray="7.2 2.35" fill="none" opacity="0.7"><path d="M824.5,807.9H1342.5"/><path d="M1194.5,559.9V1025.0"/></g>
<rect x="824.5" y="559.9" width="518.0" height="465.2" fill="none" stroke="#231f20" stroke-width="2.75"/>
<text class="tk" transform="translate(800.16,1050.40) scale(1,1.035)">−10</text><path fill="#fff" d="M818.03,1045.91H823.37v5.79H818.03ZM827.80,1045.91H832.78v5.79H827.80Z"/>
<text class="tk" transform="translate(882.14,1050.40) scale(1,1.035)">−8</text>
<text class="tk" transform="translate(956.14,1050.40) scale(1,1.035)">−6</text>
<text class="tk" transform="translate(1030.14,1050.40) scale(1,1.035)">−4</text>
<text class="tk" transform="translate(1104.14,1050.40) scale(1,1.035)">−2</text>
<text class="tk" transform="translate(1186.52,1050.40) scale(1,1.035)">0</text>
<text class="tk" transform="translate(1260.52,1050.40) scale(1,1.035)">2</text>
<text class="tk" transform="translate(1334.52,1050.40) scale(1,1.035)">4</text>
<text class="tk" transform="translate(764.44,570.10) scale(1,1.035)">3.00</text>
<text class="tk" transform="translate(764.44,632.10) scale(1,1.035)">2.25</text>
<text class="tk" transform="translate(764.44,694.10) scale(1,1.035)">1.50</text><path fill="#fff" d="M765.55,689.61H770.89v5.79H765.55ZM775.33,689.61H780.30v5.79H775.33Z"/>
<text class="tk" transform="translate(764.44,756.10) scale(1,1.035)">0.75</text>
<text class="tk" transform="translate(764.44,818.10) scale(1,1.035)">0.00</text>
<text class="tk" transform="translate(747.68,880.10) scale(1,1.035)">−0.75</text>
<text class="tk" transform="translate(747.68,942.10) scale(1,1.035)">−1.50</text><path fill="#fff" d="M765.55,937.61H770.89v5.79H765.55ZM775.33,937.61H780.30v5.79H775.33Z"/>
<text class="tk" transform="translate(747.68,1004.10) scale(1,1.035)">−2.25</text>
<text class="lb" transform="translate(0,1083.2) scale(1,1.035)"><tspan class="it" x="1012.35">E</tspan><tspan x="1037.70">−</tspan><tspan class="it" x="1062.75">E</tspan><tspan class="it sb" x="1082.85" dy="8.3">f</tspan><tspan x="1096.03" dy="-8.3">(eV)</tspan></text>
<g transform="translate(824.5,1024.60) rotate(-90)"><text class="lb" transform="translate(91.9,-102.8) scale(1,1.035)">σ</text><text class="sb" transform="translate(113.7,-124.3) scale(1,1.035)">z</text><text class="sb" transform="translate(114.15,-87.7) scale(1,1.035)">xy</text><text class="lb" transform="translate(144.30,-102.80) scale(1,1.035)">(x<tspan dx="1.2">1</tspan><tspan dx="-1.2">0</tspan></text><path fill="#fff" d="M174.79,-107.59H180.61v6.09H174.79ZM185.43,-107.59H190.85v6.09H185.43Z"/><text class="sp" transform="translate(207.8,-125.5) scale(1,1.035)">3</text><text class="lb" transform="translate(220.2,-102.8) scale(1,1.035)" letter-spacing="-0.15">(ħ/e)S/cm)</text></g>
<text class="pl" x="710.3" y="575.10">(d)</text>
</g>
</svg>
</body></html>
